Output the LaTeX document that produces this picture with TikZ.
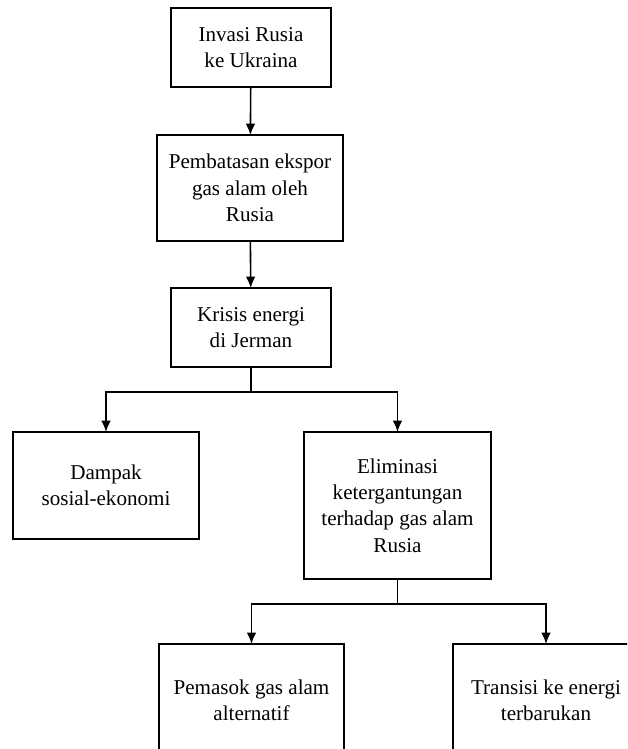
\documentclass[tikz,border=0pt]{standalone}
\usepackage{fontspec}
\setmainfont{Liberation Serif}
\usepackage{tikz}
\usetikzlibrary{arrows.meta}

\begin{document}
\begin{tikzpicture}[x=0.02cm, y=-0.02cm,
  box/.style={draw, line width=0.9pt, inner sep=0pt, outer sep=0pt, align=center,
    font=\fontsize{12}{15}\selectfont},
  arr/.style={line width=0.9pt, -{Latex[length=6.5pt, width=5.5pt]}}]
  % Frame
  \clip (0, 0) rectangle (627, 749);

  % Chain
  \node[box, minimum width=3.2cm, minimum height=1.58cm] (invasi) at (251, 47.5) {Invasi Rusia\\ke Ukraina};
  \node[box, minimum width=3.72cm, minimum height=2.12cm] (batas) at (250, 188) {Pembatasan ekspor\\gas alam oleh\\Rusia};
  \node[box, minimum width=3.2cm, minimum height=1.58cm] (krisis) at (251, 327.5) {Krisis energi\\di Jerman};

  % Branches
  \node[box, minimum width=3.72cm, minimum height=2.14cm] (dampak) at (106, 485.5) {Dampak\\sosial-ekonomi};
  \node[box, minimum width=3.74cm, minimum height=2.94cm] (eliminasi) at (397.5, 505.5) {Eliminasi\\ketergantungan\\terhadap gas alam\\Rusia};
  \node[box, minimum width=3.7cm, minimum height=2.24cm] (pemasok) at (251.5, 700) {Pemasok gas alam\\alternatif};
  \node[box, minimum width=3.72cm, minimum height=2.24cm] (transisi) at (546, 700) {Transisi ke energi\\terbarukan};

  % Arrows
  \draw[arr] (invasi) -- (batas);
  \draw[arr] (batas) -- (krisis);
  \draw[arr] (krisis.south) -- ++(0, 25) -| (dampak.north);
  \draw[arr] (krisis.south) -- ++(0, 25) -| (eliminasi.north);
  \draw[arr] (eliminasi.south) -- ++(0, 25) -| (pemasok.north);
  \draw[arr] (eliminasi.south) -- ++(0, 25) -| (transisi.north);
\end{tikzpicture}
\end{document}
